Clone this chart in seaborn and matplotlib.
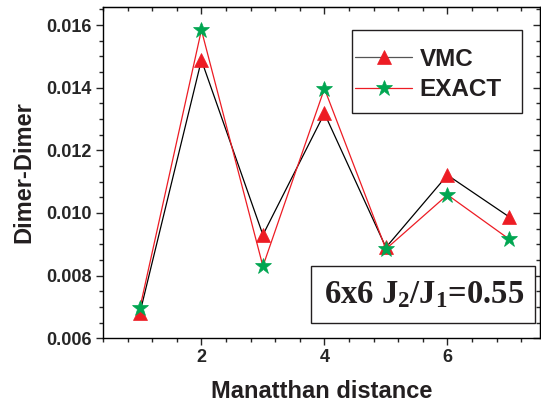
import matplotlib
matplotlib.use('Agg')
import matplotlib.pyplot as plt
from matplotlib.ticker import MultipleLocator
from matplotlib.patches import Rectangle
import seaborn as sns

# data
distance = [1, 2, 3, 4, 5, 6, 7]
vmc = [0.00681, 0.01488, 0.00930, 0.01318, 0.00890, 0.01121, 0.00988]
exact = [0.00697, 0.01584, 0.00830, 0.01397, 0.00885, 0.01058, 0.00917]

sns.set_style('ticks')
plt.rcParams['font.family'] = ['Liberation Sans', 'DejaVu Sans']
plt.rcParams['mathtext.fontset'] = 'custom'
plt.rcParams['mathtext.rm'] = 'Liberation Serif:bold'
plt.rcParams['mathtext.it'] = 'Liberation Serif:bold'
plt.rcParams['mathtext.bf'] = 'Liberation Serif:bold'

W, H = 541, 407
fig = plt.figure(figsize=(W / 100, H / 100), dpi=100)
ax = fig.add_axes([103 / W, 1 - 338.3 / H, (539.7 - 103) / W, (338.3 - 6.7) / H])

red = '#ed1c24'
green = '#00a651'
dark = '#231f20'

sns.lineplot(x=distance, y=vmc, ax=ax, color='black', lw=0.9, marker='^',
             markersize=10, markerfacecolor=red, markeredgecolor=red,
             markeredgewidth=0.5, label='VMC')
sns.lineplot(x=distance, y=exact, ax=ax, color=red, lw=0.9, marker='*',
             markersize=12, markerfacecolor=green, markeredgecolor=green,
             markeredgewidth=0.5, label='EXACT')

ax.set_xlim(0.4, 7.5)
ax.set_ylim(0.006, 0.016585)
ax.xaxis.set_major_locator(MultipleLocator(2))
ax.xaxis.set_minor_locator(MultipleLocator(0.4))
ax.yaxis.set_major_locator(MultipleLocator(0.002))
ax.yaxis.set_minor_locator(MultipleLocator(0.0005))
ax.yaxis.set_major_formatter(plt.FormatStrFormatter('%.3f'))

for s in ax.spines.values():
    s.set_linewidth(1.0)
    s.set_color('black')
ax.tick_params(which='major', direction='out', length=5, width=1, labelsize=13, pad=3)
ax.tick_params(which='minor', direction='out', length=3, width=1)
for lab in ax.get_xticklabels() + ax.get_yticklabels():
    lab.set_fontweight('bold')

# mirrored ticks pointing inward on top and right
top = ax.secondary_xaxis('top')
top.xaxis.set_major_locator(MultipleLocator(2))
top.xaxis.set_minor_locator(MultipleLocator(0.4))
top.tick_params(which='major', direction='in', length=5, width=1, labeltop=False)
top.tick_params(which='minor', direction='in', length=3, width=1)
right = ax.secondary_yaxis('right')
right.yaxis.set_major_locator(MultipleLocator(0.002))
right.yaxis.set_minor_locator(MultipleLocator(0.0005))
right.tick_params(which='major', direction='in', length=5, width=1, labelright=False)
right.tick_params(which='minor', direction='in', length=3, width=1)

ax.set_xlabel('Manatthan distance', fontsize=17, fontweight='bold', color=dark, labelpad=10)
ax.set_ylabel('Dimer-Dimer', fontsize=17, fontweight='bold', color=dark, labelpad=8)

# legend without frame, frame drawn separately
leg = ax.legend(loc='upper left', bbox_to_anchor=(355 / W, 1 - 48 / H),
                bbox_transform=fig.transFigure, frameon=False,
                fontsize=17.5, handlelength=2.35, handletextpad=0.3,
                labelspacing=0.3, borderpad=0, borderaxespad=0)
for t in leg.get_texts():
    t.set_fontweight('bold')
    t.set_color(dark)
leg.get_lines()[0].set_color('#555555')

fig.patches.append(Rectangle((351.7 / W, 1 - 112.7 / H), (521.7 - 351.7) / W, (112.7 - 30) / H,
                             transform=fig.transFigure, fill=False, ec=dark, lw=1.0))

fig.patches.append(Rectangle((311 / W, 1 - 323.3 / H), (535 - 311) / W, (323.3 - 265.7) / H,
                             transform=fig.transFigure, fc='white', ec=dark, lw=1.0, zorder=5))
fig.text(324 / W, 1 - 303.3 / H, r'6x6 J$_2$/J$_1$=0.55',
         family='Liberation Serif', fontweight='bold', fontsize=23.5,
         ha='left', va='baseline', color=dark, zorder=6)

fig.savefig('out.png', dpi=100)
